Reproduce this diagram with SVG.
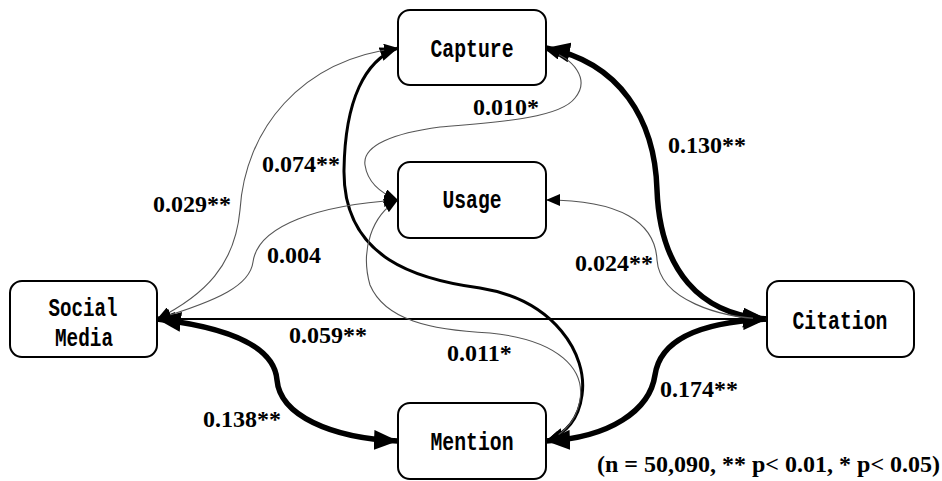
<svg xmlns="http://www.w3.org/2000/svg" width="942" height="481" viewBox="0 0 942 481">
<style>
.node rect{fill:#fff;stroke:#000;stroke-width:2}
.node text{font-family:"Liberation Mono","DejaVu Sans Mono",monospace;font-size:25px;font-weight:bold;text-anchor:middle;fill:#000}
.lbl{font-family:"Liberation Serif","Times New Roman",serif;font-weight:bold;font-size:24px;fill:#000}
.c{fill:none;stroke:#000}
.thin{stroke:#555;stroke-width:1.1;marker-start:url(#aS);marker-end:url(#aS)}
.mid{stroke-width:3;marker-start:url(#aM);marker-end:url(#aM)}
.thick{stroke-width:5.5;marker-start:url(#aL);marker-end:url(#aL)}
.line{stroke-width:2;marker-start:url(#aM2);marker-end:url(#aM2)}
</style>
<defs>
<marker id="aS" markerUnits="userSpaceOnUse" markerWidth="14" markerHeight="12" viewBox="0 0 14 12" refX="14" refY="6" orient="auto-start-reverse"><path d="M0,0 L14,6 L0,12 Z" fill="#000"/></marker>
<marker id="aM" markerUnits="userSpaceOnUse" markerWidth="18" markerHeight="14" viewBox="0 0 18 14" refX="18" refY="7" orient="auto-start-reverse"><path d="M0,0 L18,7 L0,14 Z" fill="#000"/></marker>
<marker id="aM2" markerUnits="userSpaceOnUse" markerWidth="18" markerHeight="14" viewBox="0 0 18 14" refX="18" refY="7" orient="auto-start-reverse"><path d="M0,0 L18,7 L0,14 Z" fill="#000"/></marker>
<marker id="aL" markerUnits="userSpaceOnUse" markerWidth="24" markerHeight="20" viewBox="0 0 24 20" refX="24" refY="10" orient="auto-start-reverse"><path d="M0,0 L24,10 L0,20 Z" fill="#000"/></marker>
</defs>
<g id="connectors">
<path class="c line" d="M157,319 L767,319"/>
<path class="c thick" d="M157,319 C250,330 275,355 277,380 C280,415 330,438 398,441"/>
<path class="c thick" d="M767,319 C700,322 660,340 655,375 C650,410 610,438 546,441"/>
<path class="c thick" d="M546,48 C620,62 655,120 657,190 C660,270 700,315 767,319"/>
<path class="c mid" d="M398,48 C365,60 345,100 344,170 C343,260 420,280 480,288 C555,300 588,355 582,395 C578,425 560,436 546,441"/>
<path class="c thin" d="M157,319 C205,295 235,265 240,210 C245,130 300,60 398,48"/>
<path class="c thin" d="M157,319 C220,300 250,285 253,262 C258,225 320,205 398,200"/>
<path class="c thin" d="M546,50 C575,58 590,80 575,98 C560,118 500,122 440,127 C395,133 362,145 365,165 C368,185 385,195 398,200"/>
<path class="c thin" d="M546,200 C620,200 655,222 657,260 C660,300 720,318 767,319"/>
<path class="c thin" d="M398,200 C372,215 360,250 370,285 C385,320 430,330 490,333 C560,340 585,370 580,400 C576,425 558,437 546,441"/>
</g>
<g id="capture" class="node"><rect x="398" y="10" width="148" height="75" rx="12"/><text x="472" y="57" textLength="83" lengthAdjust="spacingAndGlyphs">Capture</text></g>
<g id="usage" class="node"><rect x="398" y="162" width="148" height="76" rx="12"/><text x="472" y="208" textLength="59" lengthAdjust="spacingAndGlyphs">Usage</text></g>
<g id="social-media" class="node"><rect x="10" y="281" width="147" height="76" rx="12"/><text x="83" y="316" textLength="69" lengthAdjust="spacingAndGlyphs">Social</text><text x="84" y="346" textLength="58" lengthAdjust="spacingAndGlyphs">Media</text></g>
<g id="citation" class="node"><rect x="767" y="281" width="147" height="76" rx="12"/><text x="840" y="329" textLength="95" lengthAdjust="spacingAndGlyphs">Citation</text></g>
<g id="mention" class="node"><rect x="398" y="403" width="148" height="76" rx="12"/><text x="472" y="450" textLength="83" lengthAdjust="spacingAndGlyphs">Mention</text></g>
<g id="labels">
<text class="lbl" x="473" y="115">0.010*</text>
<text class="lbl" x="668" y="153">0.130**</text>
<text class="lbl" x="262" y="172">0.074**</text>
<text class="lbl" x="153" y="212">0.029**</text>
<text class="lbl" x="267" y="263">0.004</text>
<text class="lbl" x="575" y="271">0.024**</text>
<text class="lbl" x="289" y="343">0.059**</text>
<text class="lbl" x="447" y="361">0.011*</text>
<text class="lbl" x="203" y="427">0.138**</text>
<text class="lbl" x="660" y="397">0.174**</text>
<text class="lbl" x="597" y="472">(n = 50,090, ** p&lt; 0.01, * p&lt; 0.05)</text>
</g>
</svg>
